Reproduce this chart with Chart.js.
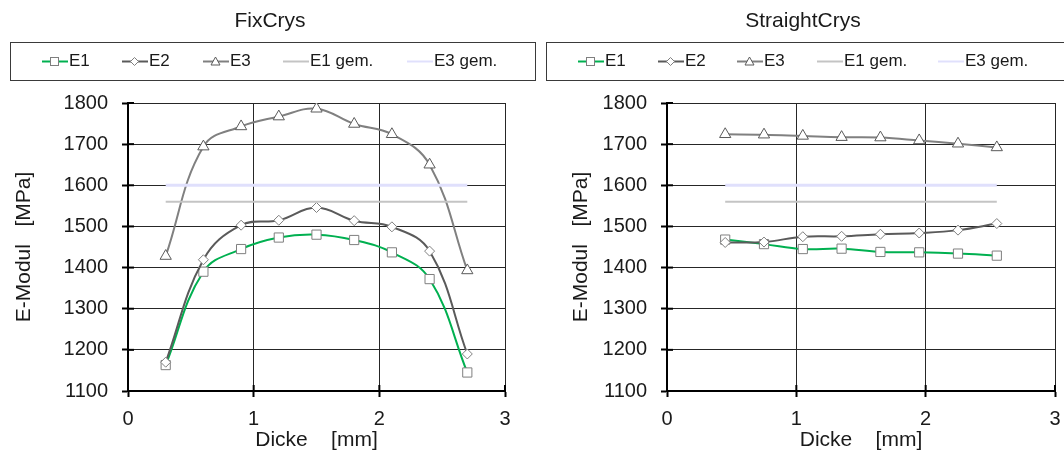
<!DOCTYPE html>
<html>
<head>
<meta charset="utf-8">
<script src="https://cdn.jsdelivr.net/npm/chart.js@4.4.1/dist/chart.umd.min.js"></script>
<style>
    body { margin: 0; background: #fff; font-family: "Liberation Sans", Arial, sans-serif; color: #1a1a1a; }
    #wrap { position: relative; width: 1064px; height: 453px; overflow: hidden; }
    .panel { position: absolute; top: 0; width: 532px; height: 453px; }
    .title { position: absolute; top: 8px; font-size: 21px; transform: translateX(-50%); white-space: nowrap; }
    .legend { position: absolute; top: 42px; height: 39px; border: 1px solid #3a3a3a; box-sizing: border-box; }
    .item { position: absolute; top: 8px; font-size: 17px; line-height: 20px; white-space: nowrap; display: flex; align-items: center; }
    .item svg { margin-right: 1px; }
</style>
</head>
<body>
<div id="wrap">
    <div class="panel" style="left:0"><canvas id="chartFix" width="532" height="453"></canvas></div>
    <div class="panel" style="left:532px"><canvas id="chartStraight" width="532" height="453"></canvas></div>
    <div class="title" style="left:270px">FixCrys</div>
    <div class="title" style="left:803px">StraightCrys</div>
    <div class="legend" id="legendFix" style="left:10px; width:526px"></div>
    <div class="legend" id="legendStraight" style="left:546px; width:530px"></div>
</div>
<script>
// Werte
const xFix = [0.3, 0.6, 0.9, 1.2, 1.5, 1.8, 2.1, 2.4, 2.7];
const e1Fix = [1163, 1390, 1445, 1473, 1480, 1467, 1437, 1372, 1145];
const e2Fix = [1170, 1419, 1503, 1515, 1546, 1514, 1499, 1440, 1190];
const e3Fix = [1428, 1694, 1743, 1767, 1786, 1749, 1724, 1650, 1393];
const gemFix = { e1: 1560, e3: 1600 };

const xStraight = [0.45, 0.75, 1.05, 1.35, 1.65, 1.95, 2.25, 2.55];
const e1Straight = [1468, 1457, 1445, 1446, 1438, 1437, 1434, 1429];
const e2Straight = [1461, 1462, 1475, 1476, 1481, 1484, 1491, 1507];
const e3Straight = [1724, 1723, 1720, 1717, 1716, 1709, 1701, 1692];
const gemStraight = { e1: 1560, e3: 1600 };

const legendLabels = ['E1', 'E2', 'E3', 'E1 gem.', 'E3 gem.'];
const yMin = 1100, yMax = 1800, yStep = 100;
const xMin = 0, xMax = 3, xStep = 1;

const colors = {
    e1: '#00b050',
    e2: '#5a5a5a',
    e3: '#808080',
    e1gem: '#c4c4c4',
    e3gem: '#e0e0fc',
    marker: '#7f7f7f'
};

const font = 'Liberation Sans';

function points(xs, ys) {
    return xs.map((x, i) => ({ x: x, y: ys[i] }));
}

function buildDatasets(xs, e1, e2, e3, gem) {
    const span = [xs[0], xs[xs.length - 1]];
    return [
        { label: 'E1 gem.', data: points(span, [gem.e1, gem.e1]), borderColor: colors.e1gem, borderWidth: 2, pointRadius: 0, tension: 0 },
        { label: 'E3 gem.', data: points(span, [gem.e3, gem.e3]), borderColor: colors.e3gem, borderWidth: 3, pointRadius: 0, tension: 0 },
        { label: 'E3', data: points(xs, e3), borderColor: colors.e3, borderWidth: 2, tension: 0.4,
          pointStyle: 'triangle', pointRadius: 6.5, pointBackgroundColor: '#fff', pointBorderColor: '#5a5a5a', pointBorderWidth: 1 },
        { label: 'E2', data: points(xs, e2), borderColor: colors.e2, borderWidth: 2, tension: 0.4,
          pointStyle: 'rectRot', pointRadius: 5, pointBackgroundColor: '#fff', pointBorderColor: colors.marker, pointBorderWidth: 1 },
        { label: 'E1', data: points(xs, e1), borderColor: colors.e1, borderWidth: 2, tension: 0.4,
          pointStyle: 'rect', pointRadius: 6.5, pointBackgroundColor: '#fff', pointBorderColor: colors.marker, pointBorderWidth: 1 }
    ];
}

// Excel-artige Kreuz-Teilstriche auch innerhalb der Achsen
const innerTicks = {
    id: 'innerTicks',
    afterDraw(chart) {
        const ctx = chart.ctx;
        const x = chart.scales.x, y = chart.scales.y;
        ctx.save();
        ctx.strokeStyle = '#000';
        ctx.lineWidth = 2;
        y.ticks.forEach(t => {
            const py = y.getPixelForValue(t.value);
            ctx.beginPath();
            ctx.moveTo(x.left, py);
            ctx.lineTo(x.left + 6, py);
            ctx.stroke();
        });
        x.ticks.forEach(t => {
            const px = x.getPixelForValue(t.value);
            ctx.beginPath();
            ctx.moveTo(px, y.bottom);
            ctx.lineTo(px, y.bottom - 6);
            ctx.stroke();
        });
        ctx.restore();
    }
};

function makeChart(id, datasets, yWidth, yTitlePad, rightPad) {
    return new Chart(document.getElementById(id), {
        type: 'line',
        data: { datasets: datasets },
        plugins: [innerTicks],
        options: {
            responsive: false,
            animation: false,
            layout: { padding: { top: 103, right: rightPad, bottom: 0, left: 0 } },
            plugins: { legend: { display: false }, tooltip: { enabled: false } },
            scales: {
                x: {
                    type: 'linear',
                    min: xMin,
                    max: xMax,
                    afterFit: s => { s.height = 62; s.paddingLeft = 0; s.paddingRight = 0; },
                    ticks: { stepSize: xStep, padding: 10, color: '#1a1a1a', font: { family: font, size: 20 } },
                    grid: { color: '#262626', lineWidth: 1, tickLength: 6, tickWidth: 2, tickColor: '#000' },
                    border: { color: '#000', width: 2 },
                    title: { display: true, text: 'Dicke    [mm]', color: '#1a1a1a', font: { family: font, size: 21 }, padding: { top: 0, bottom: 0 } }
                },
                y: {
                    min: yMin,
                    max: yMax,
                    afterFit: s => { s.width = yWidth; },
                    ticks: { stepSize: yStep, padding: 14, color: '#1a1a1a', font: { family: font, size: 20 },
                             callback: v => String(v) },
                    grid: { color: '#262626', lineWidth: 1, tickLength: 6, tickWidth: 2, tickColor: '#000' },
                    border: { color: '#000', width: 2 },
                    title: { display: true, text: 'E-Modul   [MPa]', color: '#1a1a1a', font: { family: font, size: 21 }, padding: { top: yTitlePad, bottom: 0 } }
                }
            }
        }
    });
}

function legendIcon(i) {
    const line = [colors.e1, colors.e2, colors.e3, colors.e1gem, colors.e3gem][i];
    let marker = '';
    if (i === 0) marker = '<rect x="8.5" y="3.5" width="8" height="8" fill="#fff" stroke="#7f7f7f"/>';
    if (i === 1) marker = '<polygon points="12.5,3.5 16.5,7.5 12.5,11.5 8.5,7.5" fill="#fff" stroke="#7f7f7f"/>';
    if (i === 2) marker = '<polygon points="12.5,3 17,11 8,11" fill="#fff" stroke="#5a5a5a"/>';
    return `<svg width="26" height="15"><line x1="0" y1="7.5" x2="26" y2="7.5" stroke="${line}" stroke-width="2"/>${marker}</svg>`;
}

function renderLegend(id, positions) {
    const box = document.getElementById(id);
    legendLabels.forEach((label, i) => {
        const item = document.createElement('div');
        item.className = 'item';
        item.style.left = positions[i] + 'px';
        item.innerHTML = legendIcon(i) + '<span>' + label + '</span>';
        box.appendChild(item);
    });
}

makeChart('chartFix', buildDatasets(xFix, e1Fix, e2Fix, e3Fix, gemFix), 128, 12, 27);
makeChart('chartStraight', buildDatasets(xStraight, e1Straight, e2Straight, e3Straight, gemStraight), 135, 37, 9);

renderLegend('legendFix', [31, 111, 192, 272, 396]);
renderLegend('legendStraight', [31, 111, 190, 270, 391]);
</script>
</body>
</html>
